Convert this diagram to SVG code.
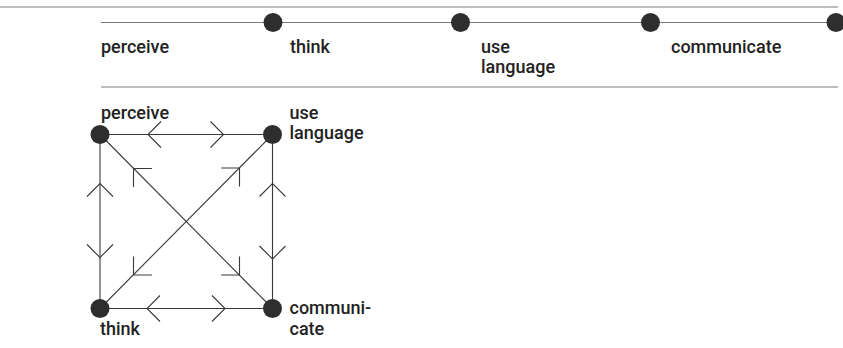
<svg xmlns="http://www.w3.org/2000/svg" xmlns:xlink="http://www.w3.org/1999/xlink" width="843" height="348" viewBox="0 0 843 348">
  <style>
    .rule { stroke: #7a7a7a; stroke-width: 1.2; fill: none; }
    .edge { stroke: #3a3a3a; stroke-width: 1.1; fill: none; }
    .dot { fill: #2e2e2e; }
    .lbl { font-family: Roboto, "Liberation Sans", Arial, sans-serif; font-weight: 500; font-size: 18px; fill: #222; }
  </style>
  <defs>
    <path id="chev" d="M-13,-13 L0,0 L-13,13" stroke="#3a3a3a" stroke-width="1.1" fill="none"/>
  </defs>
  <rect width="843" height="348" fill="#ffffff"/>

  <!-- timeline -->
  <g id="timeline">
    <line class="rule" x1="0" y1="7" x2="838" y2="7"/>
    <line class="rule" x1="101" y1="22.5" x2="843" y2="22.5"/>
    <line class="rule" x1="101" y1="87" x2="838" y2="87"/>
  </g>
  <g id="t-perceive"><text class="lbl" x="101" y="52.5">perceive</text></g>
  <g id="t-think"><circle class="dot" cx="273" cy="22.5" r="9.5"/><text class="lbl" x="290" y="52.5">think</text></g>
  <g id="t-uselanguage"><circle class="dot" cx="460.5" cy="22.5" r="9.5"/><text class="lbl" x="481" y="52.5">use</text><text class="lbl" x="481" y="72.5">language</text></g>
  <g id="t-communicate"><circle class="dot" cx="650.5" cy="22.5" r="9.5"/><text class="lbl" x="671" y="52.5">communicate</text></g>
  <g id="t-end"><circle class="dot" cx="836" cy="22.5" r="9.5"/></g>

  <!-- square diagram connectors -->
  <g id="connectors">
    <line class="edge" x1="100" y1="134.5" x2="272.5" y2="134.5"/>
    <line class="edge" x1="100" y1="308.5" x2="272.5" y2="308.5"/>
    <line class="edge" x1="100" y1="134.5" x2="100" y2="308.5"/>
    <line class="edge" x1="272.5" y1="134.5" x2="272.5" y2="308.5"/>
    <line class="edge" x1="100" y1="134.5" x2="272.5" y2="308.5"/>
    <line class="edge" x1="100" y1="308.5" x2="272.5" y2="134.5"/>
    <use xlink:href="#chev" transform="translate(148,134.5) rotate(180)"/>
    <use xlink:href="#chev" transform="translate(223.5,134.5)"/>
    <use xlink:href="#chev" transform="translate(147,308.5) rotate(180)"/>
    <use xlink:href="#chev" transform="translate(225,308.5)"/>
    <use xlink:href="#chev" transform="translate(100,183.5) rotate(-90)"/>
    <use xlink:href="#chev" transform="translate(100,257.5) rotate(90)"/>
    <use xlink:href="#chev" transform="translate(272.5,183.5) rotate(-90)"/>
    <use xlink:href="#chev" transform="translate(272.5,259) rotate(90)"/>
    <use xlink:href="#chev" transform="translate(133.5,168.5) rotate(-135)"/>
    <use xlink:href="#chev" transform="translate(239.5,275) rotate(45)"/>
    <use xlink:href="#chev" transform="translate(239.5,168) rotate(-45)"/>
    <use xlink:href="#chev" transform="translate(133.5,275) rotate(135)"/>
  </g>

  <!-- square diagram nodes -->
  <g id="n-perceive"><circle class="dot" cx="100" cy="134.5" r="9.5"/><text class="lbl" x="101" y="118.5">perceive</text></g>
  <g id="n-uselanguage"><circle class="dot" cx="272.5" cy="134.5" r="9.5"/><text class="lbl" x="289.5" y="118.5">use</text><text class="lbl" x="289.5" y="138.5">language</text></g>
  <g id="n-think"><circle class="dot" cx="100" cy="308.5" r="9.5"/><text class="lbl" x="100" y="335">think</text></g>
  <g id="n-communicate"><circle class="dot" cx="272.5" cy="308.5" r="9.5"/><text class="lbl" x="289.5" y="313.5">communi-</text><text class="lbl" x="289.5" y="334.5">cate</text></g>
</svg>
